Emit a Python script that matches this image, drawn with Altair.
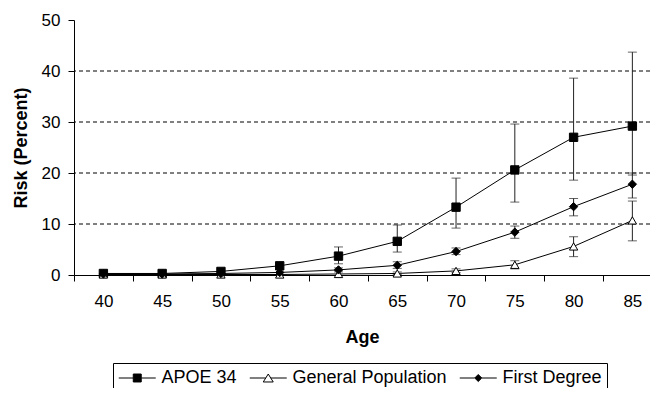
import altair as alt
import pandas as pd

# ---- data ----
ages = [40, 45, 50, 55, 60, 65, 70, 75, 80, 85]
series_names = ["APOE 34", "General Population", "First Degree"]

apoe = [0.3, 0.3, 0.7, 1.8, 3.7, 6.6, 13.3, 20.6, 27.0, 29.2]
apoe_lo = [0.3, 0.3, 0.7, 1.8, 2.2, 4.5, 9.2, 14.3, 18.6, 19.6]
apoe_hi = [0.3, 0.3, 0.7, 1.8, 5.5, 9.8, 19.0, 29.6, 38.6, 43.7]

gen = [0.1, 0.1, 0.1, 0.1, 0.2, 0.3, 0.8, 2.0, 5.6, 10.7]
gen_lo = [0.1, 0.1, 0.1, 0.1, 0.2, 0.1, 0.5, 1.2, 3.6, 6.7]
gen_hi = [0.1, 0.1, 0.1, 0.1, 0.2, 0.6, 1.2, 2.8, 7.5, 14.5]

first = [0.2, 0.2, 0.3, 0.5, 1.0, 1.9, 4.6, 8.4, 13.4, 17.8]
first_lo = [0.2, 0.2, 0.3, 0.5, 0.6, 1.3, 4.0, 7.2, 11.6, 15.1]
first_hi = [0.2, 0.2, 0.3, 0.5, 1.4, 2.6, 5.3, 9.6, 15.0, 20.0]

grid_values = [10, 20, 30, 40]
y_ticks = [0, 10, 20, 30, 40, 50]

rows = []
for name, vals, los, his in [
    ("APOE 34", apoe, apoe_lo, apoe_hi),
    ("General Population", gen, gen_lo, gen_hi),
    ("First Degree", first, first_lo, first_hi),
]:
    for a, v, lo, hi in zip(ages, vals, los, his):
        rows.append({"age": a, "series": name, "value": v, "lo": lo, "hi": hi})
df = pd.DataFrame(rows)
grid_df = pd.DataFrame({"g": grid_values})

# ---- layout ----
W, H = 576, 255
X0, X1 = 37.5, 86.5
ppy = W / (X1 - X0)
FONT = "Liberation Sans"

xscale = alt.Scale(domain=[X0, X1], nice=False, zero=False)
yscale = alt.Scale(domain=[0, 50], nice=False)

x_axis = alt.Axis(
    values=ages, title="Age", tickOffset=-2.5 * ppy, labelOffset=2.5 * ppy,
    labelPadding=12, titlePadding=19, labelOverlap=False, labelFlush=False,
    tickSize=6, grid=False,
    labelFont=FONT, labelFontSize=17, titleFont=FONT, titleFontSize=18,
    titleFontWeight="bold", domainColor="black", tickColor="black",
    labelColor="black", titleColor="black",
)
y_axis = alt.Axis(
    values=y_ticks, title="Risk (Percent)", labelPadding=8, titlePadding=11,
    tickSize=6, grid=False,
    labelFont=FONT, labelFontSize=17, titleFont=FONT, titleFontSize=18,
    titleFontWeight="bold", domainColor="black", tickColor="black",
    labelColor="black", titleColor="black",
)


def X(field):
    return alt.X(field, type="quantitative", scale=xscale, axis=x_axis)


def Y(field):
    return alt.Y(field, type="quantitative", scale=yscale, axis=y_axis)


base = alt.Chart(df)

grid = alt.Chart(grid_df).mark_rule(color="black", strokeWidth=1, strokeDash=[4, 3]).encode(
    y=Y("g")
)

err = base.transform_filter("datum.hi > datum.lo").mark_rule(
    color="#222", strokeWidth=1
).encode(x=X("age"), y=Y("lo"), y2="hi")

caps = base.transform_filter("datum.hi > datum.lo").transform_fold(
    ["lo", "hi"], as_=["end", "v"]
).mark_tick(orient="horizontal", size=9, thickness=1, color="#222").encode(
    x=X("age"), y=Y("v")
)

lines = base.mark_line(color="black", strokeWidth=1).encode(
    x=X("age"), y=Y("value"), detail="series:N"
)

points = base.mark_point(filled=True, size=70, stroke="black", strokeWidth=1, opacity=1).encode(
    x=X("age"),
    y=Y("value"),
    shape=alt.Shape("series:N", scale=alt.Scale(domain=series_names,
                                                range=["square", "triangle-up", "diamond"]),
                    legend=None),
    fill=alt.Fill("series:N", scale=alt.Scale(domain=series_names,
                                              range=["black", "white", "black"]),
                  legend=None),
)

# legend glyphs: a 37px line stub with the marker in its middle (unit = 9.25px)
sq = "M-1,0H0.57M1.43,0H3M0.57,-0.43H1.43V0.43H0.57Z"
tri = "M-1,0H0.73M1.27,0H3M1,-0.43L1.54,0.43L0.46,0.43Z"
dia = "M-1,0H0.62M1.38,0H3M1,-0.38L1.38,0L1,0.38L0.62,0Z"

leg = alt.Legend(
    orient="none", legendX=39, legendY=343, direction="horizontal", title=None,
    strokeColor="black", padding=5, symbolSize=342, symbolStrokeWidth=1,
    labelFont=FONT, labelFontSize=18, labelColor="black", labelOffset=23.5,
    columnPadding=10, labelLimit=400,
)

legend_layer = base.transform_filter("datum.value < 0").mark_point(
    filled=True, stroke="black", strokeWidth=1, opacity=1
).encode(
    x=X("age"),
    y=Y("value"),
    shape=alt.Shape("series:N", scale=alt.Scale(domain=series_names, range=[sq, tri, dia]),
                    legend=leg),
    fill=alt.Fill("series:N", scale=alt.Scale(domain=series_names,
                                              range=["black", "white", "black"]),
                  legend=leg),
)

chart = alt.layer(grid, err, caps, lines, points, legend_layer).resolve_scale(
    shape="independent", fill="independent"
).properties(
    width=W, height=H,
    autosize=alt.AutoSizeParams(type="none"),
    padding={"left": 66, "top": 12, "right": 0, "bottom": 113},
    background="white",
).configure_view(stroke=None)

chart.save("out.html", embed_options={"renderer": "svg", "actions": False})
